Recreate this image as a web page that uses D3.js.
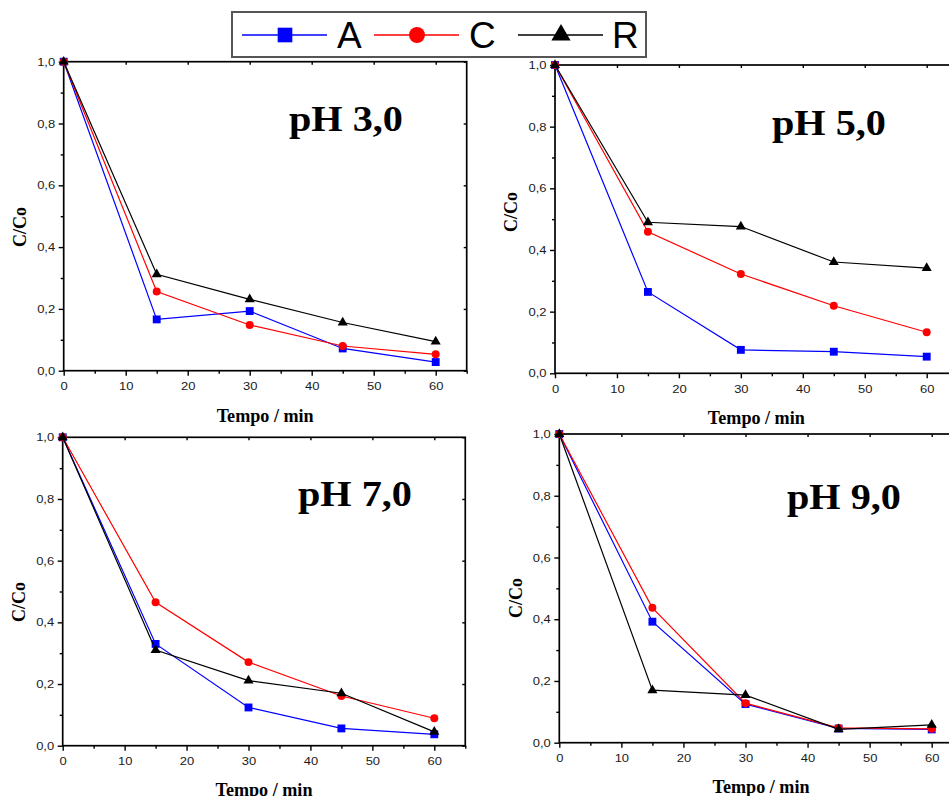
<!DOCTYPE html>
<html>
<head>
<meta charset="utf-8">
<script src="https://cdn.jsdelivr.net/npm/d3@7"></script>
<style>
  html, body { margin: 0; padding: 0; background: #fff; }
  svg { display: block; }
</style>
</head>
<body>
<svg id="chart" width="949" height="796"></svg>
<script>
// ---- Data ----
const time = [0, 15, 30, 45, 60];
const seriesNames = ["A", "C", "R"];
const panelTitles = ["pH 3,0", "pH 5,0", "pH 7,0", "pH 9,0"];
const xTickValues = [0, 10, 20, 30, 40, 50, 60];
const yTickValues = [0, 0.2, 0.4, 0.6, 0.8, 1.0];

const ph3A = [1.0, 0.166, 0.193, 0.072, 0.028];
const ph3C = [1.0, 0.256, 0.148, 0.080, 0.053];
const ph3R = [1.0, 0.312, 0.231, 0.156, 0.094];

const ph5A = [1.0, 0.264, 0.076, 0.070, 0.054];
const ph5C = [1.0, 0.459, 0.322, 0.219, 0.133];
const ph5R = [1.0, 0.490, 0.476, 0.361, 0.341];

const ph7A = [1.0, 0.330, 0.124, 0.056, 0.037];
const ph7C = [1.0, 0.465, 0.271, 0.161, 0.089];
const ph7R = [1.0, 0.310, 0.211, 0.170, 0.045];

const ph9A = [1.0, 0.392, 0.125, 0.046, 0.043];
const ph9C = [1.0, 0.437, 0.128, 0.048, 0.045];
const ph9R = [1.0, 0.170, 0.154, 0.043, 0.058];

const panelData = [
  [ph3A, ph3C, ph3R],
  [ph5A, ph5C, ph5R],
  [ph7A, ph7C, ph7R],
  [ph9A, ph9C, ph9R]
];

// ---- Styles / layout ----
const colors = { A: "#0000ff", C: "#ff0000", R: "#000000" };
const layout = [
  { x0: 63.7, x60: 435.7, yTop: 61.7, yBot: 370.7, ytx: 19, yty: 227, xty: 421.5, tx: 289, ty: 131 },
  { x0: 555.0, x60: 926.7, yTop: 65.0, yBot: 373.3, ytx: 510, yty: 212, xty: 424, tx: 772, ty: 135 },
  { x0: 62.7, x60: 434.3, yTop: 437.3, yBot: 745.7, ytx: 18, yty: 602, xty: 795.5, tx: 298, ty: 506 },
  { x0: 559.3, x60: 931.7, yTop: 434.0, yBot: 742.7, ytx: 515, yty: 598, xty: 793, tx: 787, ty: 509 }
];

const svg = d3.select("#chart");
svg.append("rect").attr("width", 949).attr("height", 796).attr("fill", "#fff");

const fmt = d => d3.format(".1f")(d).replace(".", ",");
const sym = {
  A: d3.symbol().type(d3.symbolSquare).size(62),
  C: d3.symbol().type(d3.symbolCircle).size(50),
  R: d3.symbol().type(d3.symbolTriangle).size(44)
};

function stretch(sel, f) {
  sel.each(function () {
    const w = this.getComputedTextLength();
    d3.select(this).attr("textLength", w * f).attr("lengthAdjust", "spacingAndGlyphs");
  });
}

layout.forEach((L, pi) => {
  const k = (L.x60 - L.x0) / 60;
  const x = d3.scaleLinear().domain([0, 65]).range([L.x0, L.x0 + 65 * k]);
  const y = d3.scaleLinear().domain([0, 1]).range([L.yBot, L.yTop]);
  const g = svg.append("g");

  // bottom axis
  const xAxis = d3.axisBottom(x).tickValues(xTickValues).tickFormat(d3.format("d")).tickSize(5).tickPadding(7);
  const gx = g.append("g").attr("transform", `translate(0,${L.yBot})`).call(xAxis);
  g.append("g").attr("transform", `translate(0,${L.yBot})`)
    .call(d3.axisBottom(x).tickValues([5, 15, 25, 35, 45, 55, 65]).tickFormat("").tickSize(3))
    .call(s => s.select(".domain").remove());
  // left axis
  const yAxis = d3.axisLeft(y).tickValues(yTickValues).tickFormat(fmt).tickSize(5).tickPadding(3.5);
  const gy = g.append("g").attr("transform", `translate(${L.x0},0)`).call(yAxis);
  g.append("g").attr("transform", `translate(${L.x0},0)`)
    .call(d3.axisLeft(y).tickValues([0.1, 0.3, 0.5, 0.7, 0.9]).tickFormat("").tickSize(3))
    .call(s => s.select(".domain").remove());
  // top & right mirror ticks (inward)
  g.append("g").attr("transform", `translate(0,${L.yTop})`)
    .call(d3.axisTop(x).tickValues(xTickValues).tickFormat("").tickSize(-3))
    .call(s => s.select(".domain").remove());
  g.append("g").attr("transform", `translate(${x(65)},0)`)
    .call(d3.axisRight(y).tickValues(yTickValues).tickFormat("").tickSize(-3))
    .call(s => s.select(".domain").remove());

  [gx, gy].forEach(a => {
    const t = a.selectAll("text").attr("font-family", "Liberation Sans, Arial, sans-serif")
      .attr("font-size", 11).attr("fill", "#1a1a1a");
    stretch(t, 1.18);
  });
  g.selectAll(".tick line").attr("stroke", "#000").attr("stroke-width", 1.4);
  g.selectAll(".domain").attr("stroke", "none");

  // frame
  g.append("rect")
    .attr("x", L.x0).attr("y", L.yTop)
    .attr("width", x(65) - L.x0).attr("height", L.yBot - L.yTop)
    .attr("fill", "none").attr("stroke", "#000").attr("stroke-width", 1.7);

  // series
  panelData[pi].forEach((vals, si) => {
    const name = seriesNames[si];
    const pts = time.map((t, i) => [t, vals[i]]);
    g.append("path")
      .attr("d", d3.line().x(d => x(d[0])).y(d => y(d[1]))(pts))
      .attr("fill", "none").attr("stroke", colors[name]).attr("stroke-width", 1.2);
    g.selectAll(null).data(pts).enter().append("path")
      .attr("d", sym[name])
      .attr("transform", d => `translate(${x(d[0])},${y(d[1])})`)
      .attr("fill", colors[name]);
  });

  // axis titles
  g.append("text")
    .attr("transform", `translate(${L.ytx},${L.yty}) rotate(-90)`)
    .attr("text-anchor", "middle").attr("dominant-baseline", "central")
    .attr("font-family", "Liberation Serif, Times New Roman, serif").attr("font-weight", "bold")
    .attr("font-size", 19).attr("textLength", 40).attr("lengthAdjust", "spacingAndGlyphs").text("C/Co");
  g.append("text")
    .attr("x", (L.x0 + x(65)) / 2).attr("y", L.xty)
    .attr("text-anchor", "middle")
    .attr("font-family", "Liberation Serif, Times New Roman, serif").attr("font-weight", "bold")
    .attr("font-size", 19).attr("textLength", 97).attr("lengthAdjust", "spacingAndGlyphs").text("Tempo / min");

  // panel title
  g.append("text")
    .attr("x", L.tx).attr("y", L.ty)
    .attr("font-family", "Liberation Serif, Times New Roman, serif").attr("font-weight", "bold")
    .attr("font-size", 35).attr("textLength", 114).attr("lengthAdjust", "spacingAndGlyphs")
    .text(panelTitles[pi]);
});

// ---- Legend ----
const lg = svg.append("g");
lg.append("rect").attr("x", 232).attr("y", 12).attr("width", 414).attr("height", 45)
  .attr("fill", "#fff").attr("stroke", "#555").attr("stroke-width", 2);
const legendItems = [
  { name: "A", lx: 242, tx: 337, type: d3.symbolSquare, size: 215 },
  { name: "C", lx: 374, tx: 469, type: d3.symbolCircle, size: 200 },
  { name: "R", lx: 518, tx: 612, type: d3.symbolTriangle, size: 160 }
];
legendItems.forEach(it => {
  lg.append("line").attr("x1", it.lx).attr("x2", it.lx + 85).attr("y1", 35).attr("y2", 35)
    .attr("stroke", colors[it.name]).attr("stroke-width", 1.3);
  lg.append("path").attr("d", d3.symbol().type(it.type).size(it.size)())
    .attr("transform", `translate(${it.lx + 43},35)`).attr("fill", colors[it.name]);
  lg.append("text").attr("x", it.tx).attr("y", 48)
    .attr("font-family", "Liberation Sans, Arial, sans-serif").attr("font-size", 37)
    .attr("fill", "#000").text(it.name);
});
</script>
</body>
</html>
